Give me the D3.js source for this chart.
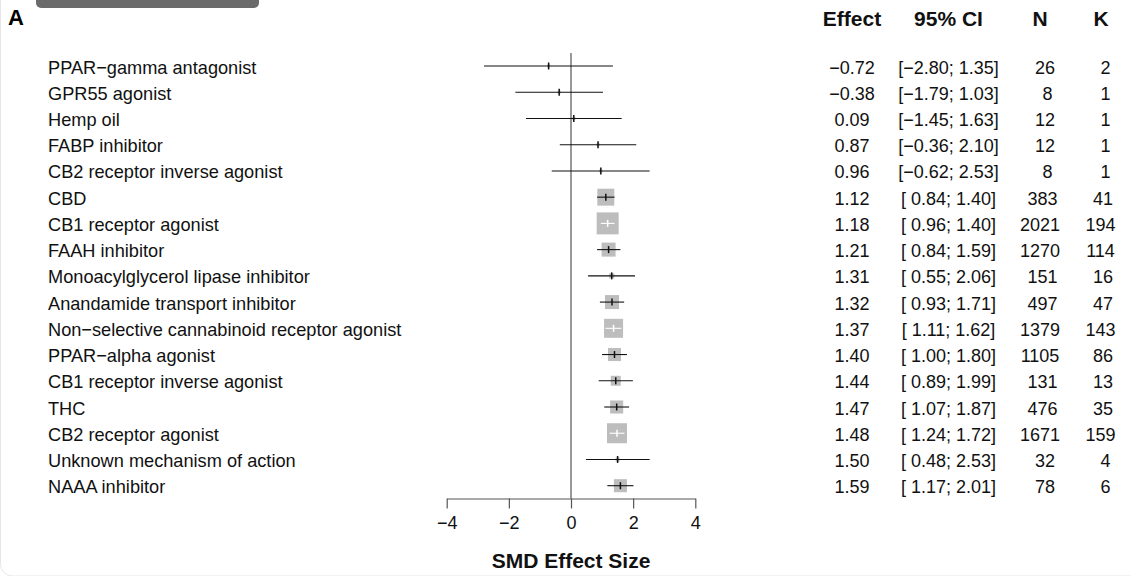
<!DOCTYPE html>
<html><head><meta charset="utf-8">
<script src="https://cdn.jsdelivr.net/npm/d3@7"></script>
<style>
html,body{margin:0;padding:0;background:#fff;}
text{font-family:"Liberation Sans",Arial,sans-serif;}
</style></head>
<body>
<svg id="chart" width="1131" height="576"></svg>
<script>
const categories = ["PPAR\u2212gamma antagonist","GPR55 agonist","Hemp oil","FABP inhibitor","CB2 receptor inverse agonist","CBD","CB1 receptor agonist","FAAH inhibitor","Monoacylglycerol lipase inhibitor","Anandamide transport inhibitor","Non\u2212selective cannabinoid receptor agonist","PPAR\u2212alpha agonist","CB1 receptor inverse agonist","THC","CB2 receptor agonist","Unknown mechanism of action","NAAA inhibitor"];
const effect = [-0.72,-0.38,0.09,0.87,0.96,1.12,1.18,1.21,1.31,1.32,1.37,1.40,1.44,1.47,1.48,1.50,1.59];
const lower  = [-2.80,-1.79,-1.45,-0.36,-0.62,0.84,0.96,0.84,0.55,0.93,1.11,1.00,0.89,1.07,1.24,0.48,1.17];
const upper  = [1.35,1.03,1.63,2.10,2.53,1.40,1.40,1.59,2.06,1.71,1.62,1.80,1.99,1.87,1.72,2.53,2.01];
const nAnimals = [26,8,12,12,8,383,2021,1270,151,497,1379,1105,131,476,1671,32,78];
const kStudies = [2,1,1,1,1,41,194,114,16,47,143,86,13,35,159,4,6];
const weights = [0.34,0.34,0.34,0.34,0.34,11.0,18.5,7.5,1.0,7.5,13.8,6.5,3.8,6.5,15.3,0.6,6.5];
const xTicks = [-4,-2,0,2,4];
const headers = ["Effect","95% CI","N","K"];

const svg = d3.select("#chart");
const minus = v => (v < 0 ? "\u2212" : "") + Math.abs(v).toFixed(2);
const ciFmt = (l,u) => "[" + (l < 0 ? "" : " ") + minus(l) + "; " + minus(u) + "]";

// panel frame and tab
svg.append("rect").attr("x",0.5).attr("y",-20).attr("width",1200).attr("height",596)
  .attr("rx",12).attr("fill","none").attr("stroke","#e6e6e6").attr("stroke-width",1);
svg.append("rect").attr("x",36).attr("y",-20).attr("width",223).attr("height",28)
  .attr("rx",5).attr("fill","#6b6b6b");
svg.append("text").attr("x",8).attr("y",25).attr("font-size",22).attr("font-weight","bold").text("A");

const x = d3.scaleLinear().domain([-4,4]).range([446.7,695.3]);
const y = d3.scaleLinear().domain([0,categories.length-1]).range([66,485.7]);
const size = d3.scaleSqrt().domain([0,d3.max(weights)]).range([0,22]);
const axisY = 498.5;

// zero line
svg.append("line").attr("x1",x(0)).attr("x2",x(0)).attr("y1",53).attr("y2",axisY)
  .attr("stroke","#7f7f7f").attr("stroke-width",1.6);

const rows = svg.append("g").selectAll("g").data(categories).join("g");
rows.each(function(c,i){
  const g = d3.select(this);
  const cy = y(i);
  const s = size(weights[i]);
  const cx = x(effect[i]);
  const inside = (x(lower[i]) >= cx - s/2) && (x(upper[i]) <= cx + s/2);
  const col = inside ? "#ffffff" : "#111111";
  g.append("rect").attr("x",cx - s/2).attr("y",cy - s/2).attr("width",s).attr("height",s)
    .attr("fill","#bdbdbd");
  g.append("line").attr("x1",x(lower[i])).attr("x2",x(upper[i])).attr("y1",cy).attr("y2",cy)
    .attr("stroke",col).attr("stroke-width",1.1);
  g.append("line").attr("x1",cx).attr("x2",cx).attr("y1",cy-3.5).attr("y2",cy+3.5)
    .attr("stroke",col).attr("stroke-width",1.5);
  const ty = cy + 7.5;
  g.append("text").attr("x",48).attr("y",ty).attr("font-size",18.2).attr("fill","#111").text(c);
  g.append("text").attr("x",852).attr("y",ty).attr("font-size",18).attr("text-anchor","middle").attr("fill","#111").text(minus(effect[i]));
  g.append("text").attr("x",948.5).attr("y",ty).attr("font-size",18).attr("text-anchor","middle").attr("fill","#111")
    .style("white-space","pre").text(ciFmt(lower[i],upper[i]));
  g.append("text").attr("x",1040).attr("y",ty).attr("font-size",18).attr("text-anchor","middle").attr("fill","#111")
    .style("white-space","pre").text(String(nAnimals[i]).padStart(4," "));
  g.append("text").attr("x",1100.5).attr("y",ty).attr("font-size",18).attr("text-anchor","middle").attr("fill","#111")
    .style("white-space","pre").text(String(kStudies[i]).padStart(3," "));
});

// headers
const hx = [852,948.5,1040,1101];
svg.append("g").selectAll("text").data(headers).join("text")
  .attr("x",(d,i)=>hx[i]).attr("y",26).attr("font-size",21).attr("font-weight","bold")
  .attr("text-anchor","middle").attr("fill","#111").text(d=>d);

// axis
const ax = svg.append("g").attr("transform",`translate(0,${axisY})`)
  .call(d3.axisBottom(x).tickValues(xTicks).tickSize(10).tickSizeOuter(0).tickPadding(8));
ax.select(".domain").attr("stroke","#555").attr("stroke-width",1.2);
ax.selectAll(".tick line").attr("stroke","#555").attr("stroke-width",1.2);
ax.selectAll(".tick text").attr("font-size",18).attr("fill","#111")
  .attr("font-family","'Liberation Sans',Arial,sans-serif");

svg.append("text").attr("x",x(0)).attr("y",568).attr("font-size",21).attr("font-weight","bold")
  .attr("text-anchor","middle").attr("fill","#111").text("SMD Effect Size");
</script>
</body></html>
